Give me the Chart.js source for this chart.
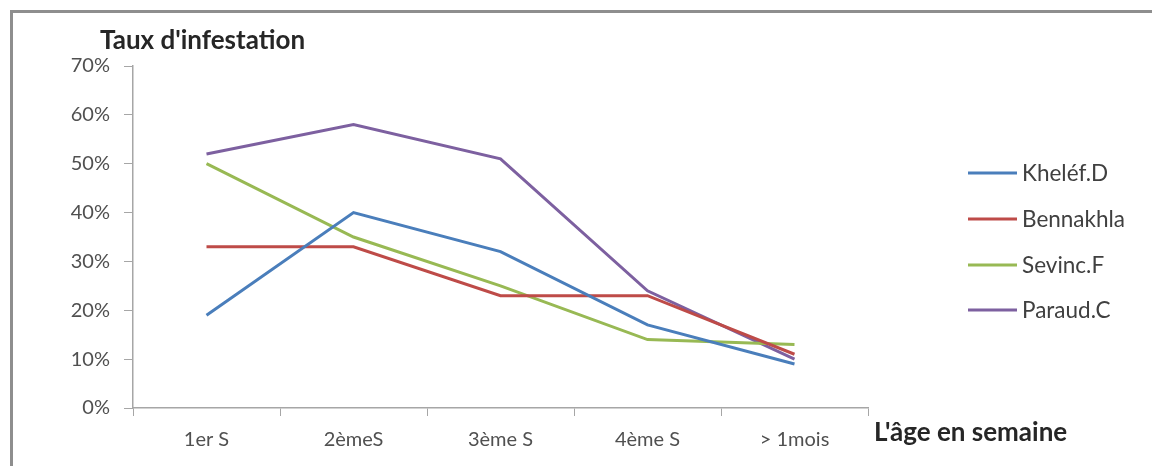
<!DOCTYPE html>
<html>
<head>
<meta charset="utf-8">
<script src="https://cdn.jsdelivr.net/npm/chart.js@4/dist/chart.umd.min.js"></script>
<style>
  html, body { margin: 0; padding: 0; background: #fff; }
  #wrap { position: relative; width: 1152px; height: 466px; overflow: hidden; }
  #frame { position: absolute; left: 10px; top: 10px; width: 1200px; height: 500px;
           border-left: 3px solid #8e8e8e; border-top: 3px solid #8e8e8e; box-sizing: border-box; }
  canvas { position: absolute; left: 0; top: 0; }
</style>
</head>
<body>
<div id="wrap">
  <div id="frame"></div>
  <canvas id="c" width="1152" height="466"></canvas>
</div>
<script>
// Age groups (x axis)
const categories = ['1er S', '2èmeS', '3ème S', '4ème S', '> 1mois'];

// Infestation rate per study, in percent
const khelefD   = [19, 40, 32, 17, 9];
const bennakhla = [33, 33, 23, 23, 11];
const sevincF   = [50, 35, 25, 14, 13];
const paraudC   = [52, 58, 51, 24, 10];

const seriesNames = ['Kheléf.D', 'Bennakhla', 'Sevinc.F', 'Paraud.C'];
const yTicks = [0, 10, 20, 30, 40, 50, 60, 70];

const FONT = "Lato, 'Open Sans', 'DejaVu Sans', sans-serif";
const colors = ['#4a7ebb', '#be4b48', '#98b954', '#7d60a0'];
const seriesValues = [khelefD, bennakhla, sevincF, paraudC];

// Axis captions and the legend, drawn on top of the chart
const annotations = {
  id: 'annotations',
  afterDraw(chart) {
    const ctx = chart.ctx;
    ctx.save();
    ctx.fillStyle = '#262626';
    ctx.textBaseline = 'middle';
    ctx.textAlign = 'left';
    ctx.font = 'bold 26px ' + FONT;
    ctx.fillText("Taux d'infestation", 100, 41);
    ctx.fillText("L'âge en semaine", 874, 433);

    // legend
    ctx.font = '22.5px ' + FONT;
    ctx.fillStyle = '#404040';
    const rows = [173, 219, 265, 310];
    chart.data.datasets.forEach((ds, i) => {
      const y = rows[i];
      ctx.strokeStyle = ds.borderColor;
      ctx.lineWidth = 3;
      ctx.beginPath();
      ctx.moveTo(968, y);
      ctx.lineTo(1017, y);
      ctx.stroke();
      ctx.fillText(ds.label, 1022, y + 1);
    });
    ctx.restore();
  }
};

new Chart(document.getElementById('c'), {
  type: 'line',
  data: {
    labels: categories,
    datasets: seriesNames.map((name, i) => ({
      label: name,
      data: seriesValues[i],
      borderColor: colors[i],
      backgroundColor: colors[i],
      borderWidth: 3,
      pointRadius: 0,
      tension: 0,
      fill: false
    }))
  },
  options: {
    responsive: false,
    animation: false,
    layout: { padding: { left: 0, top: 66, right: 284, bottom: 0 } },
    plugins: { legend: { display: false }, tooltip: { enabled: false } },
    scales: {
      x: {
        offset: true,
        grid: { offset: true, drawOnChartArea: false, color: '#a6a6a6', tickLength: 8 },
        border: { color: '#a6a6a6', width: 1.5 },
        ticks: { color: '#505050', font: { family: FONT, size: 20 }, padding: 12, maxRotation: 0 },
        afterFit(scale) { scale.height = 58; }
      },
      y: {
        min: 0,
        max: 70,
        afterBuildTicks(scale) { scale.ticks = yTicks.map(v => ({ value: v })); },
        grid: { drawOnChartArea: false, color: '#a6a6a6', tickLength: 9 },
        border: { color: '#a6a6a6', width: 1.5 },
        ticks: {
          color: '#505050',
          font: { family: FONT, size: 20 },
          padding: 14,
          callback: v => v + '%'
        },
        afterFit(scale) { scale.width = 133; }
      }
    }
  },
  plugins: [annotations]
});
</script>
</body>
</html>
